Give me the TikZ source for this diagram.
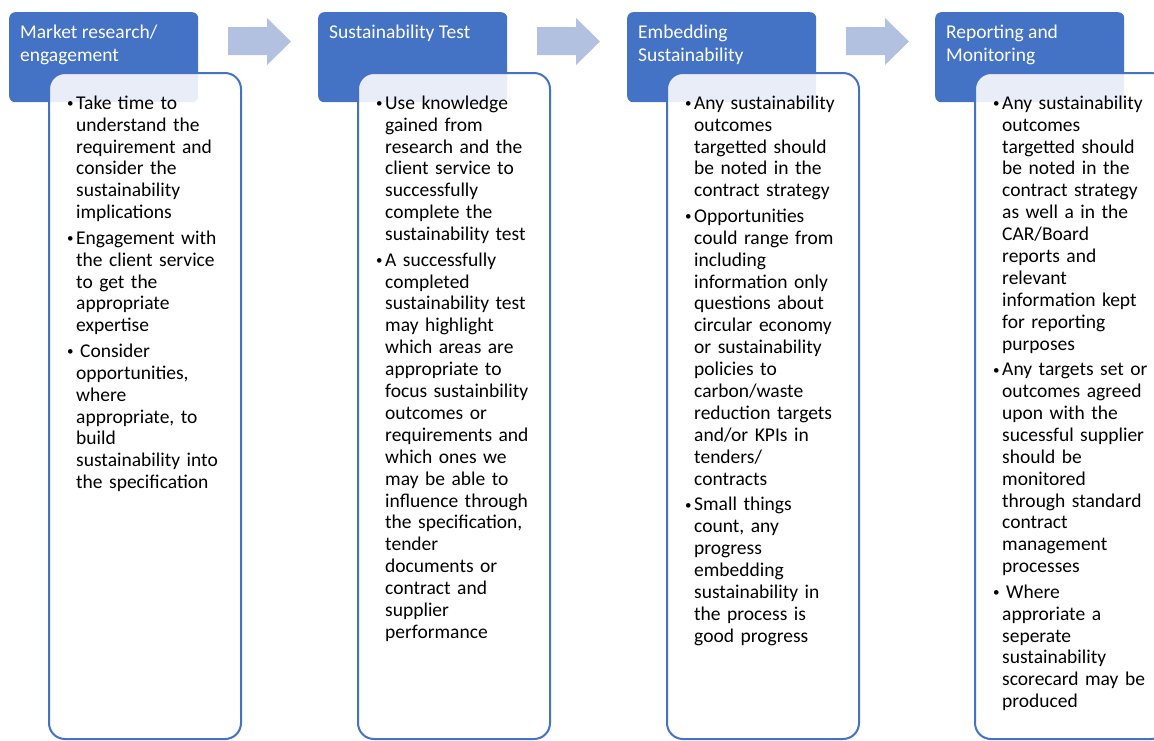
\documentclass[tikz,border=0pt]{standalone}
\usepackage{fontspec}
\setmainfont{Carlito}
\definecolor{hdrblue}{HTML}{4472C4}
\definecolor{arrblue}{HTML}{B3C1E1}
\newcommand\smallbullet{\raisebox{1.6pt}{\fontsize{13}{13}\selectfont\textbullet}}
\newcommand\bitem[1]{\par{\let\\\newline\hangindent=9pt\hangafter=1\noindent\makebox[9pt][l]{\smallbullet}#1\par}}
\tikzset{
  hdr/.style={draw=none,fill=hdrblue,rounded corners=6pt,minimum width=189pt,minimum height=90pt,anchor=north west,inner sep=0pt},
  hdrtext/.style={anchor=north west,inner sep=0pt,text=white,align=left,font=\fontsize{19.5}{22.5}\selectfont},
  bodybox/.style={draw=hdrblue,line width=2pt,fill=white,fill opacity=0.88,rounded corners=16pt,minimum width=192pt,minimum height=666pt,anchor=north west,inner sep=0pt},
  bodytext/.style={anchor=north west,inner sep=0pt,text width=200pt,font=\fontsize{19.5}{21.9}\selectfont\setlength\parskip{3.6pt}},
  blockarrow/.style={fill=arrblue,draw=none}
}
\begin{document}
\begin{tikzpicture}[x=1pt,y=-1pt]
\useasboundingbox (0,0) rectangle (1154,740);
\clip (0,0) rectangle (1154,740);
% headers
\node[hdr] (h1) at (9,12) {};
\node[hdr] (h2) at (318,12) {};
\node[hdr] (h3) at (627,12) {};
\node[hdr] (h4) at (935,12) {};
% block arrows
\foreach \dx in {0,309,618}{
  \fill[blockarrow] (228+\dx,27) -- (267+\dx,27) -- (267+\dx,18) -- (291+\dx,41.5) -- (267+\dx,65) -- (267+\dx,55) -- (228+\dx,55) -- cycle;
}
% body boxes
\node[bodybox] (b1) at (48,72) {};
\node[bodybox] (b2) at (357,72) {};
\node[bodybox] (b3) at (666,72) {};
\node[bodybox] (b4) at (974,72) {};
% header texts
\node[hdrtext] (t1) at (20,22.7) {\strut Market research/\\engagement};
\node[hdrtext] (t2) at (329,22.7) {\strut Sustainability Test};
\node[hdrtext] (t3) at (638,22.7) {\strut Embedding\\Sustainability};
\node[hdrtext] (t4) at (946,22.7) {\strut Reporting and\\Monitoring};
% body texts
\node[bodytext] (c1) at (67,83.5) {%
\bitem{\strut Take time to\\understand the\\requirement and\\consider the\\sustainability\\implications}
\bitem{Engagement with\\the client service\\to get the\\appropriate\\expertise}
\bitem{\hspace{4pt}Consider\\opportunities,\\where\\appropriate, to\\build\\sustainability into\\the specification}};
\node[bodytext] (c2) at (376,83.5) {%
\bitem{\strut Use knowledge\\gained from\\research and the\\client service to\\successfully\\complete the\\sustainability test}
\bitem{A successfully\\completed\\sustainability test\\may highlight\\which areas are\\appropriate to\\focus sustainbility\\outcomes or\\requirements and\\which ones we\\may be able to\\influence through\\the specification,\\tender\\documents or\\contract and\\supplier\\performance}};
\node[bodytext] (c3) at (685,83.5) {%
\bitem{\strut Any sustainability\\outcomes\\targetted should\\be noted in the\\contract strategy}
\bitem{Opportunities\\could range from\\including\\information only\\questions about\\circular economy\\or sustainability\\policies to\\carbon/waste\\reduction targets\\and/or KPIs in\\tenders/\\contracts}
\bitem{Small things\\count, any\\progress\\embedding\\sustainability in\\the process is\\good progress}};
\node[bodytext] (c4) at (993,83.5) {%
\bitem{\strut Any sustainability\\outcomes\\targetted should\\be noted in the\\contract strategy\\as well a in the\\CAR/Board\\reports and\\relevant\\information kept\\for reporting\\purposes}
\bitem{Any targets set or\\outcomes agreed\\upon with the\\sucessful supplier\\should be\\monitored\\through standard\\contract\\management\\processes}
\bitem{\hspace{4pt}Where\\approriate a\\seperate\\sustainability\\scorecard may be\\produced}};
\end{tikzpicture}
\end{document}
